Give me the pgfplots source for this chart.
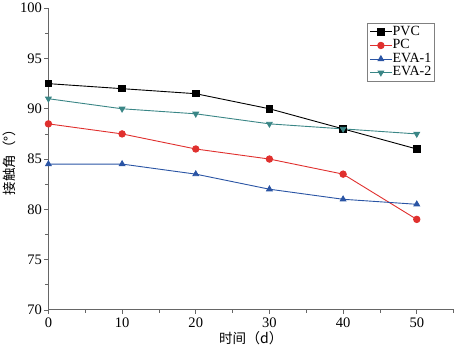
\documentclass[border=0pt]{standalone}
\usepackage{pgfplots}
\pgfplotsset{compat=1.18}
\usepackage{fontspec}
\setmainfont{Liberation Serif}
\newfontfamily\cjk{Noto Sans CJK SC}
\definecolor{cpvc}{HTML}{000000}
\definecolor{cpc}{HTML}{E0302E}
\definecolor{ceva}{HTML}{2A54A4}
\definecolor{cevb}{HTML}{3A8686}
\begin{document}
\begin{tikzpicture}[x=1bp,y=1bp]
\begin{axis}[
  scale only axis,
  width=403bp, height=300bp,
  xmin=0, xmax=55, ymin=70, ymax=100,
  axis x line*=bottom, axis y line*=left,
  axis line style={gray!80!black, line width=0.8pt},
  xtick={0,10,20,30,40,50}, minor xtick={5,15,25,35,45,55},
  ytick={70,75,80,85,90,95,100}, minor ytick={72.5,77.5,82.5,87.5,92.5,97.5},
  tick align=outside,
  major tick length=4bp, minor tick length=3bp,
  tick style={gray!80!black, line width=0.6pt},
  /pgf/number format/assume math mode=true,
  ticklabel style={font=\fontsize{14.5}{16}\selectfont},
  yticklabel style={xshift=1bp},
  xlabel={\cjk 时间\fontsize{14}{16}\selectfont（d）},
  ylabel={\cjk 接触角（°）},
  xlabel style={font=\fontsize{13.5}{16}\selectfont, yshift=3bp},
  ylabel style={font=\fontsize{13.5}{16}\selectfont, yshift=-3bp},
  legend style={at={(0.787,0.95)}, anchor=north west, draw=gray, line width=0.6pt,
    font=\fontsize{14}{14}\selectfont, inner xsep=2pt, inner ysep=1.5pt, row sep=0pt,
    cells={anchor=west}, nodes={inner sep=0.5pt, text height=9.5bp, text depth=3bp}},
  legend cell align=left,
  legend image code/.code={\draw[mark repeat=2,mark phase=2] plot coordinates {(0cm,0cm)(0.38cm,0cm)(0.76cm,0cm)};},
  every axis plot/.append style={line width=0.9pt, mark size=3.2bp},
]
\addplot[color=cpvc, mark=square*] coordinates {(0,92.5)(10,92)(20,91.5)(30,90)(40,88)(50,86)};
\addlegendentry{PVC}
\addplot[color=cpc, mark=*] coordinates {(0,88.5)(10,87.5)(20,86)(30,85)(40,83.5)(50,79)};
\addlegendentry{PC}
\addplot[color=ceva, mark=triangle*] coordinates {(0,84.5)(10,84.5)(20,83.5)(30,82)(40,81)(50,80.5)};
\addlegendentry{EVA-1}
\addplot[color=cevb, mark=triangle*, mark options={rotate=180}] coordinates {(0,91)(10,90)(20,89.5)(30,88.5)(40,88)(50,87.5)};
\addlegendentry{EVA-2}
\end{axis}
\end{tikzpicture}
\end{document}
